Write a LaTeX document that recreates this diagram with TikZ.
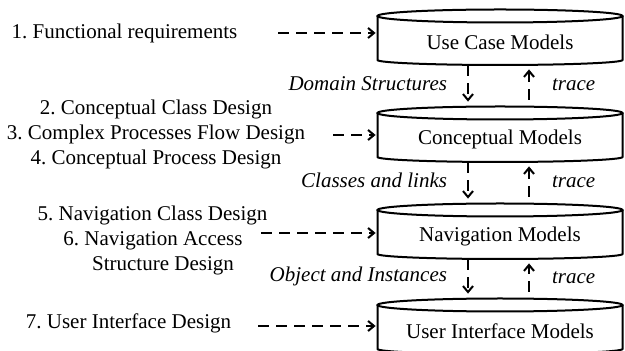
\documentclass[tikz,border=0pt]{standalone}
\usepackage{fontspec}
\setmainfont{Liberation Serif}
\usetikzlibrary{arrows.meta}
\frenchspacing
\begin{document}
\begin{tikzpicture}[x=0.5pt,y=-0.5pt,
  txt/.style={inner sep=0pt, font=\fontsize{10.5}{12.4}\selectfont},
  rel/.style={inner sep=0pt, font=\fontsize{10.5}{12.4}\selectfont\itshape},
  cylbody/.style={minimum width=122.5pt, minimum height=27.5pt, inner sep=0pt},
  cylline/.style={line width=1pt},
  flow/.style={line width=1pt, dash pattern=on 5.5pt off 3.5pt,
    -{Straight Barb[length=3pt,width=5pt]}},
]
\useasboundingbox (0,0) rectangle (625,351);

% model repositories drawn as cylinders
\foreach \n/\t/\lab in {uc/16/Use Case Models, cm/113/Conceptual Models,
                        nm/210/Navigation Models, ui/305/User Interface Models} {
  \node[cylbody, label={[txt,yshift=-2.25pt]center:\lab}] (\n) at (500,\t+21.5) {};
  \draw[cylline] (377.5,\t) -- (377.5,\t+44) arc (180:0:122.5 and 5) -- (622.5,\t);
  \draw[cylline] (500,\t) ellipse (122.5 and 6.5);
}

% design activities
\node[txt] (r1) at (124.5,33) {1. Functional requirements};
\node[txt, align=center] (r2) at (156,134.5)
  {2. Conceptual Class Design\\3. Complex Processes Flow Design\\4. Conceptual Process Design};
\node[txt] (r5) at (152.5,215) {5. Navigation Class Design};
\node[txt, align=center] (r6) at (153,253)
  {6. Navigation Access\\\hspace*{10pt}Structure Design};
\node[txt] (r7) at (128.5,323) {7. User Interface Design};

% activity -> model
\coordinate (s1) at (278,33);
\coordinate (s2) at (333,135);
\coordinate (s3) at (261,233);
\coordinate (s4) at (258,326);
\draw[flow, shorten >=0.75pt] (s1) -- (s1 -| uc.west);
\draw[flow, shorten >=0.75pt] (s2) -- (s2 -| cm.west);
\draw[flow, shorten >=0.75pt] (s3) -- (s3 -| nm.west);
\draw[flow, shorten >=0.75pt] (s4) -- (s4 -| ui.west);

% model -> model transformations and traces
\foreach \a/\b/\lab in {uc/cm/Domain Structures, cm/nm/Classes and links,
                        nm/ui/Object and Instances} {
  \draw[flow] ([xshift=-16pt]\a.south) --
    node[rel, left=10pt] {\lab} ([xshift=-16pt,yshift=2.5pt]\b.north);
  \draw[flow] ([xshift=14.5pt,yshift=3.5pt]\b.north) --
    node[rel, right=11pt] {trace} ([xshift=14.5pt,yshift=-2pt]\a.south);
}
\end{tikzpicture}
\end{document}
